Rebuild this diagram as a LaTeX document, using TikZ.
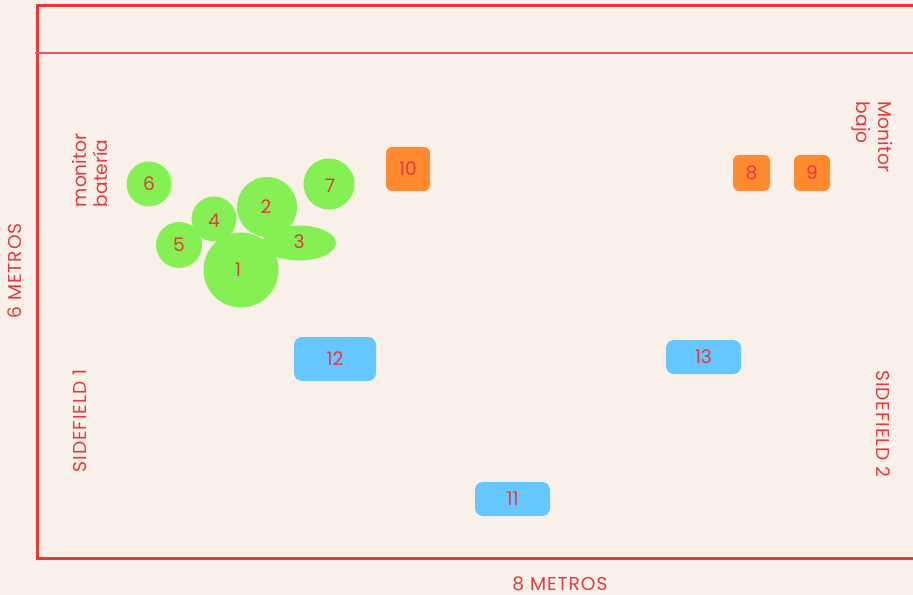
\documentclass[tikz,border=0pt]{standalone}
\usepackage{fontspec}
\setmainfont{Poppins}
\newfontfamily\capsfont{Poppins}[LetterSpace=5]
\usetikzlibrary{shapes.geometric}
\definecolor{bg}{RGB}{250,240,234}
\definecolor{fr}{RGB}{238,54,58}
\definecolor{tx}{RGB}{230,58,60}
\definecolor{gr}{RGB}{132,240,84}
\definecolor{orng}{RGB}{255,138,48}
\definecolor{blu}{RGB}{102,198,255}
\def\px{0.75pt}
\tikzset{
  lbl/.style={font=\fontsize{14}{16}\selectfont, text=tx, inner sep=0pt},
  caps/.style={lbl, font=\fontsize{14}{16}\selectfont\capsfont},
  tree/.style={lbl, circle, fill=gr, minimum size=#1*\px},
  orbox/.style={lbl, rectangle, fill=orng, rounded corners=4.5pt},
  blbox/.style={lbl, rectangle, fill=blu, rounded corners=6pt},
  sidetxt/.style={lbl, align=left},
}
\begin{document}
\begin{tikzpicture}[x=0.75pt,y=-0.75pt]
\fill[bg] (0,0) rectangle (913,595);
\useasboundingbox (0,0) rectangle (913,595);
% frame
\draw[fr, line width=3*\px] (920,6) -- (37,6) -- (37,558) -- (920,558);
\draw[fr!85, line width=1.3*\px] (35,53) -- (920,53);
% trees
\node[lbl, ellipse, fill=gr, minimum width=74*\px, minimum height=35*\px] (t3) at (299,243) {};
\node[tree=75] (t1) at (241,270) {};
\node[tree=60] (t2) at (267,207) {};
\node[tree=45] (t4) at (214,219) {};
\node[tree=46] (t5) at (179,245) {};
\node[tree=45] (t6) at (149,184) {};
\node[tree=51] (t7) at (329,184) {};
\node[lbl] (n3) at (299,242) {3};
\node[lbl] (n1) at (238,270) {1};
\node[lbl] (n2) at (266,207) {2};
\node[lbl] (n4) at (214,221) {4};
\node[lbl] (n5) at (179,245) {5};
\node[lbl] (n6) at (149,184) {6};
\node[lbl] (n7) at (330,186) {7};
% orange boxes
\node[orbox, minimum width=44*\px, minimum height=44*\px] (b10) at (408,169) {10};
\node[orbox, minimum width=37*\px, minimum height=36*\px] (b8) at (751.5,173) {8};
\node[orbox, minimum width=36*\px, minimum height=36*\px] (b9) at (812,173) {9};
% blue boxes
\node[blbox, minimum width=82*\px, minimum height=44*\px] (b12) at (335,359) {12};
\node[blbox, minimum width=75*\px, minimum height=34*\px] (b13) at (703.5,357) {13};
\node[blbox, minimum width=75*\px, minimum height=34*\px] (b11) at (512.5,499) {11};
% side texts
\node[sidetxt, rotate=90] (mb) at (90,170.5) {monitor\\batería};
\node[sidetxt, rotate=-90] (mj) at (872,137) {Monitor\\bajo};
\node[caps, rotate=90] (m6) at (15,271) {6 METROS};
\node[caps, rotate=90] (s1) at (80,421) {SIDEFIELD 1};
\node[caps, rotate=-90] (s2) at (883,424) {SIDEFIELD 2};
\node[caps] (m8) at (560,584) {8 METROS};
\end{tikzpicture}
\end{document}
